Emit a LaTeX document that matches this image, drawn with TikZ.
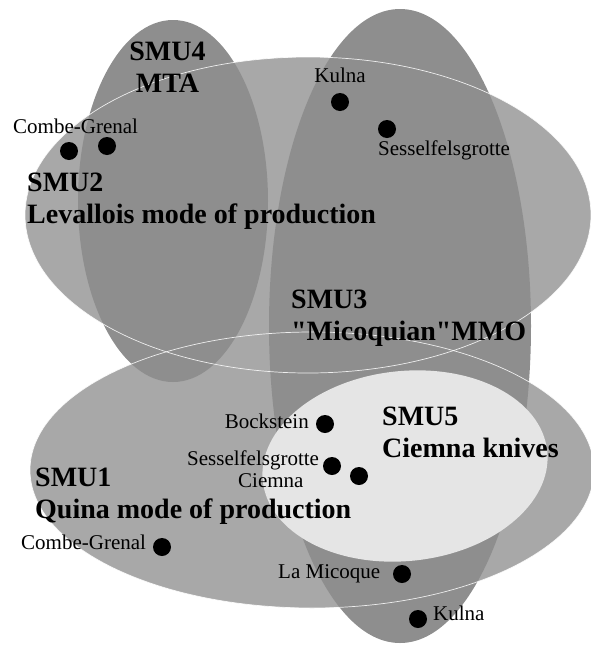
\documentclass[tikz,border=0pt]{standalone}
\usepackage{fontspec}
\setmainfont{Liberation Serif}
\usetikzlibrary{positioning}
\definecolor{smuLight}{gray}{0.66}
\definecolor{smuDark}{gray}{0.555}
\definecolor{smuPale}{gray}{0.90}
\tikzstyle{Site} = [inner sep=0pt, font=\fontsize{21}{24}\selectfont]
\tikzstyle{Unit} = [inner sep=0pt, align=left, font=\fontsize{28}{31.5}\selectfont\bfseries]
\tikzstyle{Dot}  = [circle, fill=black, inner sep=0pt, minimum size=18pt]
\tikzstyle{Rim}  = [draw=white, line width=0.7pt, draw opacity=0.85]

\begin{document}
\begin{tikzpicture}[x=1pt, y=-1pt]
    \useasboundingbox (0,0) rectangle (590,646);
    % unit areas
    \fill[smuLight] (312,470) ellipse [x radius=282pt, y radius=138pt];
    \fill[smuLight] (308,215) ellipse [x radius=283pt, y radius=158pt];
    \fill[smuDark]  (173,201) ellipse [x radius=95pt,  y radius=181pt];
    \fill[smuDark]  (400,326) ellipse [x radius=131pt, y radius=317pt];
    \draw[Rim]      (312,470) ellipse [x radius=282pt, y radius=138pt];
    \draw[Rim]      (308,215) ellipse [x radius=283pt, y radius=158pt];
    \fill[smuPale, rotate around={6:(405,466)}] (405,466) ellipse [x radius=143pt, y radius=95pt];
    % unit names
    \node[Unit, align=center, anchor=north] (smu4) at (167.5,42) {SMU4\\MTA};
    \node[Unit, anchor=north west] (smu2) at (27,173)  {SMU2\\Levallois mode of production};
    \node[Unit, anchor=north west] (smu3) at (291,290) {SMU3\\\textquotedbl Micoquian\textquotedbl MMO};
    \node[Unit, anchor=north west] (smu5) at (382,407) {SMU5\\Ciemna knives};
    \node[Unit, anchor=north west] (smu1) at (35,468)  {SMU1\\Quina mode of production};
    % sites
    \node[Dot] (cgA)    at (69,151)  {};
    \node[Dot] (cgB)    at (107,146) {};
    \node[Dot] (kulA)   at (340,102) {};
    \node[Dot] (sesA)   at (387,129) {};
    \node[Dot] (bock)   at (325,424) {};
    \node[Dot] (sesB)   at (332,466) {};
    \node[Dot] (ciem)   at (359,476) {};
    \node[Dot] (cgC)    at (162,547) {};
    \node[Dot] (mico)   at (402,574) {};
    \node[Dot] (kulB)   at (418,619) {};
    \node[Site, anchor=base west] (cgA_t)  at (13,133)  {Combe-Grenal};
    \node[Site, above=10pt of kulA] (kulA_t) {Kulna};
    \node[Site, anchor=base west] (sesA_t) at (378,155) {Sesselfelsgrotte};
    \node[Site, anchor=base east] (bock_t) at (309,428) {Bockstein};
    \node[Site, anchor=base west] (sesB_t) at (187,465) {Sesselfelsgrotte};
    \node[Site, anchor=base west] (ciem_t) at (238,487) {Ciemna};
    \node[Site, anchor=base west] (cgC_t)  at (21,549)  {Combe-Grenal};
    \node[Site, anchor=base west] (mico_t) at (278,578) {La Micoque};
    \node[Site, anchor=base west] (kulB_t) at (433,620) {Kulna};
\end{tikzpicture}
\end{document}
